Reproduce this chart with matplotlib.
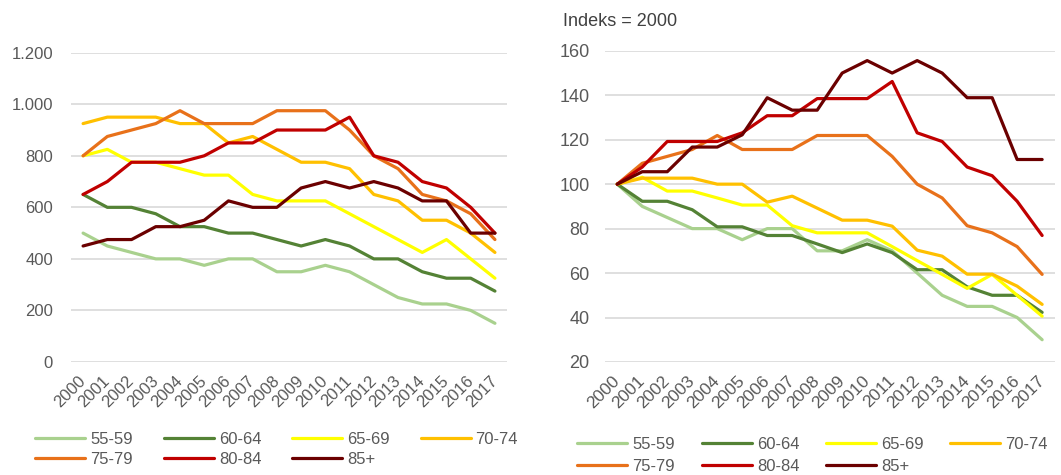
import matplotlib.pyplot as plt
from matplotlib.ticker import FuncFormatter

plt.rcParams['font.family'] = ['Liberation Sans', 'DejaVu Sans']

years = [str(y) for y in range(2000, 2018)]
groups = ['55-59', '60-64', '65-69', '70-74', '75-79', '80-84', '85+']
colors = ['#A9D18E', '#548235', '#FFFF00', '#FFC000', '#E8711A', '#C00000', '#6B0000']

# left panel: counts
v_55_59 = [500, 450, 425, 400, 400, 375, 400, 400, 350, 350, 375, 350, 300, 250, 225, 225, 200, 150]
v_60_64 = [650, 600, 600, 575, 525, 525, 500, 500, 475, 450, 475, 450, 400, 400, 350, 325, 325, 275]
v_65_69 = [800, 825, 775, 775, 750, 725, 725, 650, 625, 625, 625, 575, 525, 475, 425, 475, 400, 325]
v_70_74 = [925, 950, 950, 950, 925, 925, 850, 875, 825, 775, 775, 750, 650, 625, 550, 550, 500, 425]
v_75_79 = [800, 875, 900, 925, 975, 925, 925, 925, 975, 975, 975, 900, 800, 750, 650, 625, 575, 475]
v_80_84 = [650, 700, 775, 775, 775, 800, 850, 850, 900, 900, 900, 950, 800, 775, 700, 675, 600, 500]
v_85 = [450, 475, 475, 525, 525, 550, 625, 600, 600, 675, 700, 675, 700, 675, 625, 625, 500, 500]

# right panel: index 2000 = 100
i_55_59 = [100, 90, 85, 80, 80, 75, 80, 80, 70, 70, 75, 70, 60, 50, 45, 45, 40, 30]
i_60_64 = [100, 92.3, 92.3, 88.5, 80.8, 80.8, 76.9, 76.9, 73.1, 69.2, 73.1, 69.2, 61.5, 61.5, 53.8, 50, 50, 42.3]
i_65_69 = [100, 103.1, 96.9, 96.9, 93.8, 90.6, 90.6, 81.3, 78.1, 78.1, 78.1, 71.9, 65.6, 59.4, 53.1, 59.4, 50, 40.6]
i_70_74 = [100, 102.7, 102.7, 102.7, 100, 100, 91.9, 94.6, 89.2, 83.8, 83.8, 81.1, 70.3, 67.6, 59.5, 59.5, 54.1, 45.9]
i_75_79 = [100, 109.4, 112.5, 115.6, 121.9, 115.6, 115.6, 115.6, 121.9, 121.9, 121.9, 112.5, 100, 93.8, 81.3, 78.1, 71.9, 59.4]
i_80_84 = [100, 107.7, 119.2, 119.2, 119.2, 123.1, 130.8, 130.8, 138.5, 138.5, 138.5, 146.2, 123.1, 119.2, 107.7, 103.8, 92.3, 76.9]
i_85 = [100, 105.6, 105.6, 116.7, 116.7, 122.2, 138.9, 133.3, 133.3, 150, 155.6, 150, 155.6, 150, 138.9, 138.9, 111.1, 111.1]

left_series = [v_55_59, v_60_64, v_65_69, v_70_74, v_75_79, v_80_84, v_85]
right_series = [i_55_59, i_60_64, i_65_69, i_70_74, i_75_79, i_80_84, i_85]

fig = plt.figure(figsize=(10.61, 4.75), dpi=100)
ax1 = fig.add_axes([0.0669, 0.238, 0.411, 0.651])
ax2 = fig.add_axes([0.570, 0.238, 0.424, 0.655])

tick_color = '#595959'
x = list(range(len(years)))


def style(ax, ylim, yticks, ypad, ysize, xsize):
    ax.set_xlim(-0.5, len(years) - 0.5)
    ax.set_ylim(*ylim)
    ax.set_yticks(yticks)
    ax.set_xticks(x)
    ax.set_xticklabels(years, rotation=45, ha='right', va='center', rotation_mode='anchor')
    ax.grid(axis='y', color='#D9D9D9', linewidth=1.2)
    ax.set_axisbelow(True)
    for s in ax.spines.values():
        s.set_visible(False)
    ax.tick_params(axis='both', length=0, colors=tick_color)
    ax.tick_params(axis='y', pad=ypad, labelsize=ysize)
    ax.tick_params(axis='x', pad=12, labelsize=xsize)


for vals, c, g in zip(left_series, colors, groups):
    ax1.plot(x, vals, color=c, linewidth=2.3, label=g, solid_capstyle='round')
style(ax1, (0, 1200), range(0, 1201, 200), 13, 12, 12)
ax1.yaxis.set_major_formatter(FuncFormatter(lambda v, p: f'{int(v):,}'.replace(',', '.')))

for vals, c, g in zip(right_series, colors, groups):
    ax2.plot(x, vals, color=c, linewidth=2.3, label=g, solid_capstyle='round')
style(ax2, (20, 160), range(20, 161, 20), 11, 13, 12.5)

fig.text(0.531, 0.955, 'Indeks = 2000', fontsize=13, color='#404040', va='center', ha='left')

# row-wise legend order for 4 columns x 2 rows
order = [0, 4, 1, 5, 2, 6, 3]
leg_kw = dict(ncol=4, frameon=False, fontsize=12, handlelength=3.0, handletextpad=0.3,
              labelcolor=tick_color)
h1, l1 = ax1.get_legend_handles_labels()
fig.legend([h1[i] for i in order], [l1[i] for i in order], loc='upper left',
           bbox_to_anchor=(0.027, 0.105), borderaxespad=0, columnspacing=1.85,
           labelspacing=0.3, **leg_kw)
h2, l2 = ax2.get_legend_handles_labels()
fig.legend([h2[i] for i in order], [l2[i] for i in order], loc='upper left',
           bbox_to_anchor=(0.538, 0.095), borderaxespad=0, columnspacing=1.6,
           labelspacing=0.45, **leg_kw)

fig.savefig('out.png', dpi=100)
